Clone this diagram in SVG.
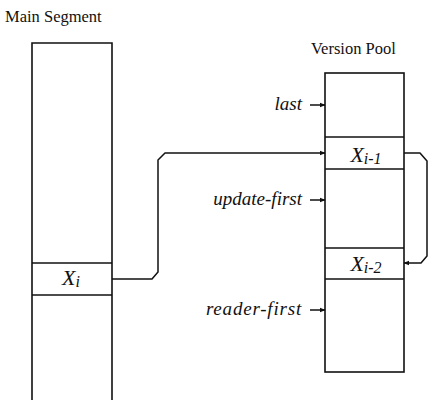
<svg xmlns="http://www.w3.org/2000/svg" width="428" height="400" viewBox="0 0 428 400">
  <style>
    .box { fill: none; stroke: #111; stroke-width: 1.6; }
    .wire { fill: none; stroke: #111; stroke-width: 1.5; stroke-linejoin: round; }
    .title { font-family: "Liberation Serif", "Times New Roman", serif; font-size: 16.5px; fill: #111; }
    .ptr { font-family: "Liberation Serif", "Times New Roman", serif; font-style: italic; font-size: 19px; fill: #111; }
    .cell { font-family: "Liberation Serif", "Times New Roman", serif; font-style: italic; font-size: 22px; fill: #111; text-anchor: middle; }
    .sub { font-size: 16px; }
  </style>
  <defs>
    <marker id="head" viewBox="0 0 10 10" refX="9" refY="5" markerWidth="6" markerHeight="6" orient="auto" markerUnits="userSpaceOnUse">
      <path d="M0,1 L10,5 L0,9 Z" fill="#111"/>
    </marker>
  </defs>

  <!-- Main segment column -->
  <g id="main-segment">
    <text class="title" x="5" y="22">Main Segment</text>
    <path class="box" d="M32,401 V43 H112 V401"/>
    <line class="box" x1="32" y1="263" x2="112" y2="263"/>
    <line class="box" x1="32" y1="295" x2="112" y2="295"/>
    <text class="cell" x="71" y="285">X<tspan class="sub" dy="2">i</tspan></text>
  </g>

  <!-- Version pool column -->
  <g id="version-pool">
    <text class="title" x="311" y="54">Version Pool</text>
    <rect class="box" x="325" y="73" width="79" height="299"/>
    <line class="box" x1="325" y1="137" x2="404" y2="137"/>
    <line class="box" x1="325" y1="169" x2="404" y2="169"/>
    <line class="box" x1="325" y1="248" x2="404" y2="248"/>
    <line class="box" x1="325" y1="279" x2="404" y2="279"/>
    <text class="cell" x="366" y="162">X<tspan class="sub" dy="2">i-1</tspan></text>
    <text class="cell" x="366" y="271">X<tspan class="sub" dy="2">i-2</tspan></text>
  </g>

  <!-- Pointer labels -->
  <g id="label-last">
    <text class="ptr" x="302" y="110" text-anchor="end">last</text>
  </g>
  <g id="label-update-first">
    <text class="ptr" x="302" y="205" text-anchor="end">update-first</text>
  </g>
  <g id="label-reader-first">
    <text class="ptr" x="302" y="315" text-anchor="end" letter-spacing="0.8">reader-first</text>
  </g>

  <!-- Connectors -->
  <g id="connectors">
    <line class="wire" x1="310" y1="105" x2="325" y2="105" marker-end="url(#head)"/>
    <line class="wire" x1="310" y1="200" x2="325" y2="200" marker-end="url(#head)"/>
    <line class="wire" x1="310" y1="310" x2="325" y2="310" marker-end="url(#head)"/>
    <path class="wire" d="M112,279 H152 L158,272 V160 L165,153 H325" marker-end="url(#head)"/>
    <path class="wire" stroke-width="1.2" d="M404,153 H420 L427,161 V256 L421,263 H404" marker-end="url(#head)"/>
  </g>
</svg>
